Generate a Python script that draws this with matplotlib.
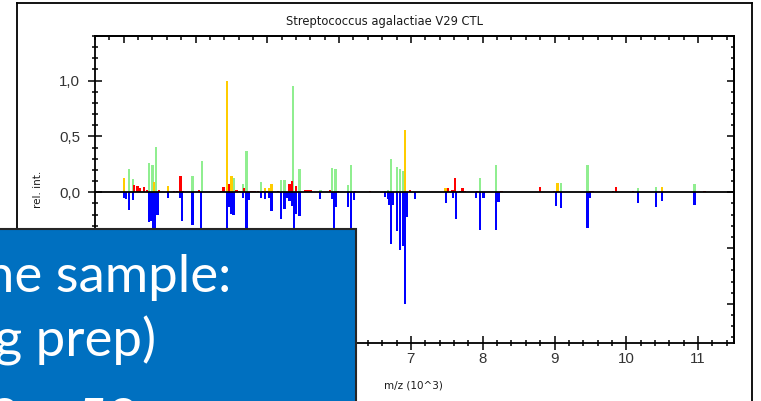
import matplotlib
matplotlib.use('Agg')
from matplotlib import pyplot as plt
from matplotlib.patches import Rectangle
from matplotlib.lines import Line2D
from matplotlib.ticker import MultipleLocator, FuncFormatter, NullFormatter

# Reference spectrum peaks (m/z in 10^3), coloured by match class
yellow_mz = [3.00, 3.42, 3.62, 4.44, 4.50, 4.97, 5.03, 5.06, 6.92, 7.48, 9.04, 10.50]
yellow_int = [0.13, 0.093, 0.054, 1.00, 0.145, 0.036, 0.036, 0.073, 0.56, 0.04, 0.08, 0.045]

green_mz = [3.07, 3.13, 3.35, 3.40, 3.45, 3.96, 4.09, 4.53, 4.66, 4.71, 4.91, 5.19, 5.24,
            5.36, 5.45, 5.74, 5.90, 5.95, 6.12, 6.17, 6.64, 6.68, 6.72, 6.81, 6.85, 6.89,
            7.96, 8.19, 9.09, 9.46, 10.16, 10.41, 10.95]
green_int = [0.21, 0.12, 0.26, 0.24, 0.41, 0.147, 0.28, 0.127, 0.073, 0.366, 0.093, 0.108, 0.108,
             0.95, 0.207, 0.02, 0.216, 0.205, 0.063, 0.24, 0.01, 0.02, 0.30, 0.228, 0.205, 0.19,
             0.13, 0.243, 0.08, 0.24, 0.035, 0.045, 0.072]

red_mz = [3.14, 3.19, 3.23, 3.28, 3.32, 3.49, 3.70, 3.74, 3.79, 3.83, 4.05, 4.36, 4.39, 4.47,
          4.57, 4.61, 4.68, 4.78, 4.82, 4.87, 4.94, 5.00, 5.15, 5.31, 5.34, 5.40, 5.52, 5.56,
          5.60, 5.87, 5.98, 6.22, 6.43, 6.99, 7.52, 7.58, 7.61, 7.68, 7.72, 7.75, 7.92, 8.26,
          8.80, 8.99, 9.50, 9.53, 9.81, 9.86, 10.09, 11.09]
red_int = [0.063, 0.055, 0.04, 0.045, 0.02, 0.025, 0.015, 0.015, 0.147, 0.015, 0.025, 0.015, 0.05, 0.07,
           0.025, 0.015, 0.035, 0.015, 0.015, 0.013, 0.015, 0.015, 0.013, 0.07, 0.10, 0.055, 0.025, 0.025,
           0.025, 0.02, 0.012, 0.012, 0.012, 0.02, 0.04, 0.02, 0.13, 0.015, 0.035, 0.012, 0.012, 0.012,
           0.045, 0.012, 0.015, 0.015, 0.012, 0.05, 0.012, 0.012]

# Sample spectrum, drawn mirrored below zero
sample_mz = [3.00, 3.03, 3.07, 3.13, 3.35, 3.38, 3.41, 3.44, 3.47, 3.62, 3.79, 3.81, 3.96, 4.08,
             4.44, 4.47, 4.50, 4.53, 4.66, 4.71, 4.74, 4.91, 4.97, 5.03, 5.06, 5.19, 5.24, 5.27,
             5.31, 5.34, 5.37, 5.40, 5.45, 5.73, 5.90, 5.93, 5.96, 6.12, 6.17, 6.21, 6.64, 6.68,
             6.70, 6.72, 6.75, 6.81, 6.85, 6.89, 6.92, 6.95, 7.06, 7.49, 7.59, 7.63, 7.91, 7.96,
             8.01, 8.19, 8.22, 9.02, 9.09, 9.46, 9.49, 10.16, 10.41, 10.50, 10.95]
sample_int = [-0.05, -0.06, -0.16, -0.07, -0.27, -0.26, -0.45, -0.50, -0.20, -0.05, -0.05, -0.26, -0.29, -0.40,
              -0.55, -0.13, -0.19, -0.20, -0.05, -0.45, -0.07, -0.05, -0.06, -0.05, -0.17, -0.24, -0.15, -0.05,
              -0.08, -0.12, -0.50, -0.19, -0.21, -0.06, -0.06, -0.35, -0.13, -0.13, -0.35, -0.07, -0.045, -0.06,
              -0.11, -0.46, -0.11, -0.35, -0.52, -0.48, -1.00, -0.22, -0.06, -0.10, -0.05, -0.24, -0.05, -0.34,
              -0.05, -0.34, -0.09, -0.12, -0.14, -0.32, -0.05, -0.10, -0.13, -0.08, -0.11]

# labelled ticks left uncovered by the text box
x_labels = [7, 8, 9, 10, 11]
y_labels = [0.0, 0.5, 1.0]

W, H = 761, 401
fig = plt.figure(figsize=(W / 100, H / 100), dpi=100)


def fx(px):
    return px / W


def fy(py):
    return 1 - py / H


def x_fmt(v, pos):
    return f'{int(round(v))}' if int(round(v)) in x_labels else ''


def y_fmt(v, pos):
    v = round(v, 1) + 0.0
    return f'{v:.1f}'.replace('.', ',') if v in y_labels else ''


ax = fig.add_axes([fx(95), fy(343), fx(734) - fx(95), fy(36) - fy(343)])

bw = 0.032
ax.bar(sample_mz, sample_int, width=bw, color='#0000ff', linewidth=0, zorder=2)
ax.bar(green_mz, green_int, width=bw, color='#90ee90', linewidth=0, zorder=2)
ax.bar(red_mz, red_int, width=bw, color='#ff0000', linewidth=0, zorder=3)
ax.bar(yellow_mz, yellow_int, width=bw, color='#ffcc00', linewidth=0, zorder=3)
ax.axhline(0, color='black', lw=1.3, zorder=4)

ax.set_xlim(2.6, 11.5)
ax.set_ylim(-1.35, 1.4)

for s in ax.spines.values():
    s.set_linewidth(1.3)

ax.xaxis.set_major_locator(MultipleLocator(1))
ax.xaxis.set_minor_locator(MultipleLocator(0.2))
ax.yaxis.set_major_locator(MultipleLocator(0.5))
ax.yaxis.set_minor_locator(MultipleLocator(0.1))
ax.xaxis.set_major_formatter(FuncFormatter(x_fmt))
ax.yaxis.set_major_formatter(FuncFormatter(y_fmt))

ax.tick_params(axis='both', which='both', direction='inout', width=1.1, colors='black',
               labelcolor='#333333', labelsize=10.8)
ax.tick_params(axis='x', which='major', length=9.5, pad=2)
ax.tick_params(axis='x', which='minor', length=4)
ax.tick_params(axis='y', which='major', length=9.5, pad=6)
ax.tick_params(axis='y', which='minor', length=5)
ax.tick_params(top=False, right=False)

# inward ticks along top and right edges
top = ax.secondary_xaxis('top')
top.xaxis.set_major_locator(MultipleLocator(1))
top.xaxis.set_minor_locator(MultipleLocator(0.2))
top.xaxis.set_major_formatter(NullFormatter())
top.tick_params(which='both', direction='in', width=1.1)
top.tick_params(which='major', length=5)
top.tick_params(which='minor', length=3)
top.spines['top'].set_linewidth(1.3)

right = ax.secondary_yaxis('right')
right.yaxis.set_major_locator(MultipleLocator(0.5))
right.yaxis.set_minor_locator(MultipleLocator(0.1))
right.yaxis.set_major_formatter(NullFormatter())
right.tick_params(which='both', direction='in', width=1.1)
right.tick_params(which='major', length=5)
right.tick_params(which='minor', length=2.5)
right.spines['right'].set_linewidth(1.3)

for lab in ax.get_xticklabels() + ax.get_yticklabels():
    lab.set_fontfamily('Liberation Sans')

small = dict(family='DejaVu Sans', color='#1a1a1a')
fig.text(fx(385), fy(22), 'Streptococcus agalactiae V29 CTL', ha='center', va='center',
         fontsize=8.3, **small)
fig.text(fx(413), fy(385), 'm/z (10^3)', ha='center', va='center', fontsize=7.5, **small)
fig.text(fx(38), fy(189), 'rel. int.', ha='center', va='center', rotation=90,
         fontsize=7.5, **small)

# outer frame of the plot window
for xs, ys in [([17, 17], [3, 420]), ([17, 752], [3, 3]), ([752, 752], [3, 420])]:
    fig.add_artist(Line2D([fx(v) for v in xs], [fy(v) for v in ys], color='black', lw=1.3,
                          transform=fig.transFigure, zorder=1))

# overlaid text box
fig.add_artist(Rectangle((fx(-5), fy(415)), fx(356) - fx(-5), fy(229) - fy(415),
                         transform=fig.transFigure, facecolor='#0070c0', edgecolor='#262626',
                         lw=1.5, zorder=5))
box_font = dict(family='Lato', size=38, color='white', zorder=6)
fig.text(fx(231), fy(292), 'the sample:', ha='right', va='baseline', **box_font)
fig.text(fx(156), fy(357), '(during prep)', ha='right', va='baseline', **box_font)
fig.text(fx(-11), fy(436), '2 \u2013 52', ha='left', va='baseline', **box_font)

plt.savefig('out.png', dpi=100)
